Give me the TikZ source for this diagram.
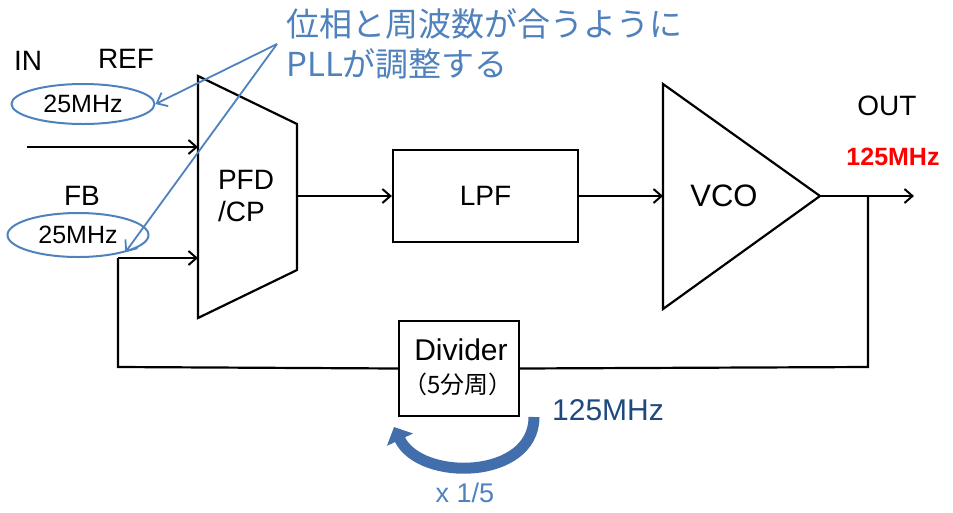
\documentclass[tikz,border=0pt]{standalone}
\usepackage{fontspec}
\setmainfont{Liberation Sans}
\newfontfamily\jp{Noto Sans CJK JP}
\usetikzlibrary{arrows.meta,shapes.geometric}
\definecolor{callblue}{RGB}{79,129,189}
\definecolor{navyblue}{RGB}{31,73,125}
\definecolor{curveblue}{RGB}{66,110,172}
\begin{document}
\begin{tikzpicture}[x=1pt,y=-1pt,
  wire/.style={draw=black, line width=2.2pt},
  arr/.style={wire, -{Straight Barb[length=8pt,width=14pt,line width=2pt]}},
  callarr/.style={draw=callblue, line width=1.8pt, -{Straight Barb[length=9pt,width=15pt,line width=1.8pt]}},
  freq/.style={draw=callblue, line width=2pt, ellipse, inner sep=0pt, font=\fontsize{25}{25}\selectfont},
  lbl/.style={font=\fontsize{28}{28}\selectfont, inner sep=0pt},
  blk/.style={draw=black, line width=2.2pt, fill=white, inner sep=0pt}
]
\useasboundingbox (0,0) rectangle (953,512);

% PFD/CP trapezoid
\coordinate (p1) at (198,76);
\coordinate (p2) at (297,124);
\coordinate (p3) at (297,270);
\coordinate (p4) at (198,318);
\draw[wire, line join=miter] (p1) -- (p2) -- (p3) -- (p4) -- cycle;
\node[lbl, align=left] (pfd) at (246,196) {PFD\\[4pt]/CP};
\coordinate (pfdin1) at (198,147);
\coordinate (pfdin2) at (198,258);
\coordinate (pfdout) at (297,196);

% LPF
\node[blk, minimum width=185pt, minimum height=92pt, font=\fontsize{28}{28}\selectfont] (lpf) at (485.5,196) {LPF};

% VCO triangle
\coordinate (v1) at (663,84);
\coordinate (v2) at (820,196);
\coordinate (v3) at (663,309);
\draw[wire, line join=miter] (v1) -- (v2) -- (v3) -- cycle;
\node[lbl, font=\fontsize{31}{31}\selectfont] (vco) at (724,196) {VCO};
\coordinate (vcoin) at (663,196);

% Divider
\node[blk, minimum width=120pt, minimum height=95pt] (div) at (459,368.5) {};
\node[font=\fontsize{30}{30}\selectfont, inner sep=0pt] (divt) at (461,350) {Divider};
\node[font=\fontsize{24}{24}\selectfont, inner sep=0pt] (divs) at (458,384) {\jp （5分周）};

% labels
\node[lbl] (in) at (28,61) {IN};
\node[lbl] (ref) at (126,59) {REF};
\node[lbl] (fb) at (82,196) {FB};
\node[lbl] (outl) at (887,106) {OUT};
\node[font=\bfseries\fontsize{25}{25}\selectfont, text=red, inner sep=0pt] (outf) at (893,157) {125MHz};
\node[font=\fontsize{30}{30}\selectfont, text=navyblue, inner sep=0pt] (divf) at (608,410) {125MHz};
\node[font=\fontsize{27}{27}\selectfont, text=callblue, inner sep=0pt] (ratio) at (465,493) {x 1/5};

% frequency ellipses
\node[freq, minimum width=143pt, minimum height=40pt] (refe) at (83,104) {25MHz};
\node[freq, minimum width=141pt, minimum height=44pt] (fbe) at (78,235) {25MHz};

% annotation
\node[font=\jp\fontsize{33}{33}\selectfont, text=callblue, anchor=west, inner sep=0pt] (ann1) at (286,24) {位相と周波数が合うように};
\node[font=\jp\fontsize{33}{33}\selectfont, text=callblue, anchor=west, inner sep=0pt] (ann2) at (286,64) {PLLが調整する};
\coordinate (callsrc) at (277,44);
\draw[callarr] (callsrc) -- (refe.east);
\draw[callarr] (callsrc) -- (fbe.-20);

% signal path
\coordinate (inst) at (27,147);
\draw[arr] (inst) -- (pfdin1);
\coordinate (fbst) at (118,258);
\draw[arr] (fbst) -- (pfdin2);
\draw[arr] (pfdout) -- (lpf.west);
\draw[arr] (lpf.east) -- (vcoin);
\coordinate (outend) at (914,196);
\draw[arr] (v2) -- (outend);
\coordinate (tap) at (868,196);
\coordinate (fbcorner1) at (118,367);
\coordinate (fbcorner2) at (868,367);
\draw[wire] (tap) -- (fbcorner2) -- (div.east);
\draw[wire] (div.west) -- (fbcorner1) -- (fbst);

% curved divide arrow
\coordinate (cs) at (534,417);
\coordinate (ce) at (394,427);
\draw[curveblue, line width=11pt, -{Triangle[length=14pt,width=28pt]}] (cs) .. controls (534,480) and (420,482) .. (ce);
\end{tikzpicture}
\end{document}
